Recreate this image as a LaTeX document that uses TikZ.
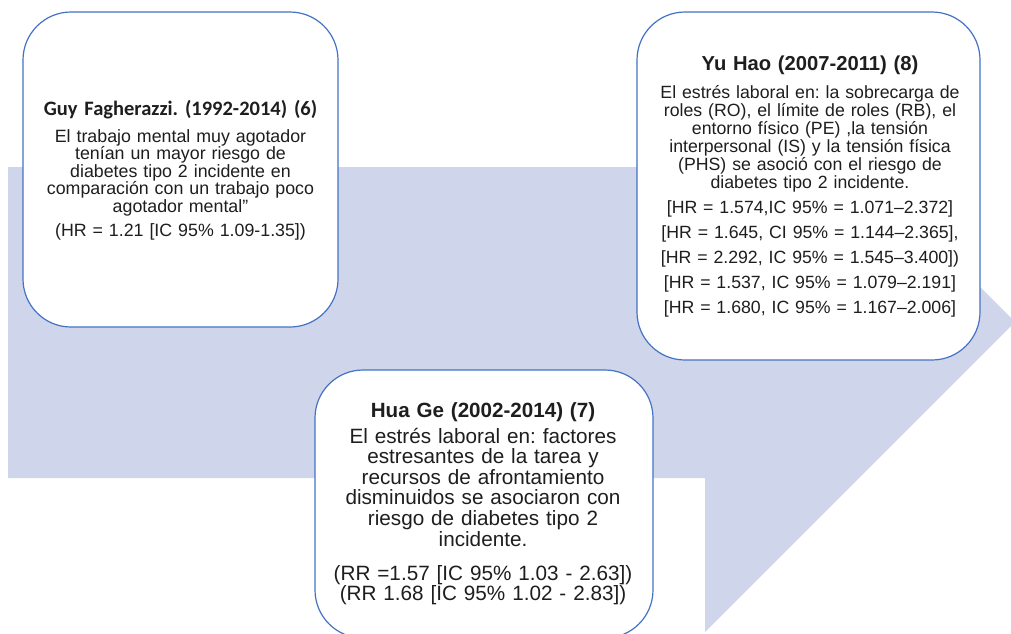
\documentclass[tikz,border=0pt]{standalone}
\usepackage{fontspec}
\setmainfont{Liberation Sans}
\newfontfamily\calibfont{Carlito}
\definecolor{arrowfill}{HTML}{CFD5EA}
\definecolor{boxline}{HTML}{4472C4}
\definecolor{txt}{HTML}{1E1E1E}
\frenchspacing
\begin{document}
\begin{tikzpicture}[x=1pt,y=-1pt,
  card/.style={draw=boxline,line width=1.2pt,fill=white,rounded corners=48pt},
  txtblock/.style={anchor=base,inner sep=0pt,text=txt,align=center,text width=330pt}]
\useasboundingbox (0,0) rectangle (1011,633);
\begin{scope}
\clip (0,0) rectangle (1011,633);
\fill[arrowfill] (8,167) -- (705,167) -- (705,12) -- (1015,322) -- (705,632) -- (705,478) -- (8,478) -- cycle;
% boxes
\draw[card] (23,12) rectangle (338,327);
\draw[card] (637,12) rectangle (980,360);
\draw[card] (315,370) rectangle (653,638);
\end{scope}
% Guy
\node[txtblock,font=\calibfont\bfseries\fontsize{20.5}{22}\selectfont] (guyt) at (180.5,115) {Guy Fagherazzi. (1992-2014) (6)};
\node[txtblock,font=\fontsize{17.8}{17.5}\selectfont] (guyb) at (180.5,142) {El trabajo mental muy agotador\\ tenían un mayor riesgo de\\ diabetes tipo 2 incidente en\\ comparación con un trabajo poco\\ agotador mental\symbol{34}};
\node[txtblock,font=\fontsize{17.8}{17.5}\selectfont] (guys) at (180.5,236) {(HR = 1.21 [IC 95\% 1.09-1.35])};
% Yu Hao
\node[txtblock,font=\bfseries\fontsize{20.2}{22}\selectfont] (yut) at (810,70) {Yu Hao (2007-2011) (8)};
\node[txtblock,font=\fontsize{17.7}{18}\selectfont] (yub) at (810,98) {El estrés laboral en: la sobrecarga de\\ roles (RO), el límite de roles (RB), el\\ entorno físico (PE) ,la tensión\\ interpersonal (IS) y la tensión física\\ (PHS) se asoció con el riesgo de\\ diabetes tipo 2 incidente.};
\node[txtblock,font=\fontsize{17.7}{25}\selectfont] (yus) at (810,213) {{[}HR = 1.574,IC 95\% = 1.071–2.372]\\ {[}HR = 1.645, CI 95\% = 1.144–2.365],\\ {[}HR = 2.292, IC 95\% = 1.545–3.400])\\ {[}HR = 1.537, IC 95\% = 1.079–2.191]\\ {[}HR = 1.680, IC 95\% = 1.167–2.006]};
% Hua Ge
\node[txtblock,font=\bfseries\fontsize{20.6}{22}\selectfont] (huat) at (483,417) {Hua Ge (2002-2014) (7)};
\node[txtblock,font=\fontsize{20.7}{20.6}\selectfont] (huab) at (483,443) {El estrés laboral en: factores\\ estresantes de la tarea y\\ recursos de afrontamiento\\ disminuidos se asociaron con\\ riesgo de diabetes tipo 2\\ incidente.};
\node[txtblock,font=\fontsize{20.7}{17}\selectfont] (huas) at (483,580) {(RR =1.57 [IC 95\% 1.03 - 2.63])\\ (RR 1.68 [IC 95\% 1.02 - 2.83])};
\end{tikzpicture}
\end{document}
